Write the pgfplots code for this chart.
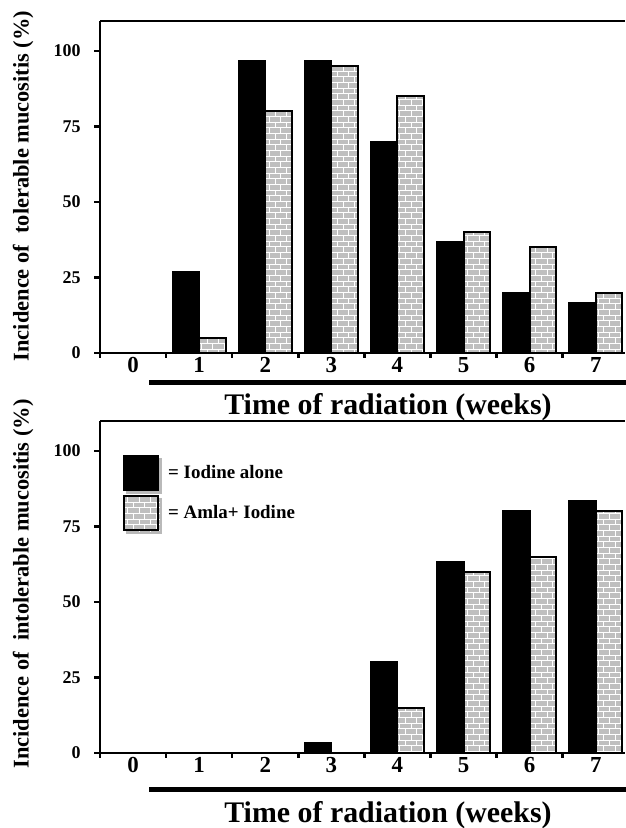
\documentclass[border=0pt]{standalone}
\usepackage{fontspec}
\setmainfont{Liberation Serif}
\usepackage{pgfplots}
\pgfplotsset{compat=1.18}
\usetikzlibrary{patterns}

% weekly incidence (%), iodine alone vs amla + iodine
\pgfplotstableread{
week iod amla
0 0    0
1 26.7 5
2 96.7 80
3 96.7 95
4 70   85
5 36.7 40
6 20   35
7 16.7 20
}\tolerable
\pgfplotstableread{
week iod amla
0 0    0
1 0    0
2 0    0
3 3.3  0
4 30   15
5 63.3 60
6 80   65
7 83.3 80
}\intolerable

\pgfplotsset{
  muco/.style={
    x=66.1bp, y=3.02bp,
    xmin=-0.5, xmax=7.44, ymin=0, ymax=110,
    axis x line*=bottom, axis y line*=left,
    axis line style={line width=2.5bp, -},
    ytick={0,25,50,75,100},
    xtick={0,...,7},
    minor xtick={-0.5,0.5,...,6.5},
    tick align=outside,
    major tick length=6bp, minor tick length=5bp,
    tick style={line width=2.5bp, black},
    major x tick style={draw=none},
    /pgf/number format/assume math mode=true,
    yticklabel style={font=\bfseries\fontsize{18}{19}\selectfont, xshift=-10bp},
    xticklabel style={font=\bfseries\fontsize{23}{24}\selectfont, yshift=5bp},
  },
  blackbar/.style={ybar, bar width=26.4bp, bar shift=-13.2bp,
    fill=black, draw=black, line width=2bp},
  brickbar/.style={ybar, bar width=26.4bp, bar shift=13.2bp,
    fill=gray!50, draw=black, line width=2bp,
    postaction={pattern=bricks, pattern color=white}},
  sqlegend/.style={legend image code/.code={
    \fill[gray!55] (3bp,-20bp) rectangle (37bp,14bp);
    \draw[##1, line width=2bp] (0bp,-17bp) rectangle (34bp,17bp);}},
}

\begin{document}
\begin{tikzpicture}
\useasboundingbox (0,0) rectangle (626bp,828bp);

\begin{axis}[muco, at={(100bp,475bp)}, anchor=south west]
\addplot[blackbar] table[x=week, y=iod] {\tolerable};
\addplot[brickbar] table[x=week, y=amla] {\tolerable};
\draw[line width=2.5bp] (rel axis cs:0,1) -- (rel axis cs:1,1);
\draw[gray!40, line width=0.6bp] (rel axis cs:1,0) -- (rel axis cs:1,1);
\end{axis}

\begin{axis}[muco, at={(100bp,75bp)}, anchor=south west,
  legend style={at={(rel axis cs:0,1)}, anchor=north west,
    xshift=23bp, yshift=-34bp, draw=none, fill=none, inner sep=0pt,
    row sep=1bp, font=\bfseries\fontsize{19}{20}\selectfont,
    nodes={inner sep=0pt, anchor=west},
    /tikz/every odd column/.append style={column sep=6bp}},
  legend cell align=left]
\addplot[blackbar, sqlegend] table[x=week, y=iod] {\intolerable};
\addplot[brickbar, sqlegend] table[x=week, y=amla] {\intolerable};
\legend{= Iodine alone, = Amla+ Iodine}
\draw[line width=2.5bp] (rel axis cs:0,1) -- (rel axis cs:1,1);
\draw[gray!40, line width=0.6bp] (rel axis cs:1,0) -- (rel axis cs:1,1);
\end{axis}

\fill (149bp,443bp) rectangle (626bp,448bp);
\fill (149bp,36bp) rectangle (626bp,41bp);

\node[anchor=base, font=\bfseries\fontsize{30}{32}\selectfont]
  at (388bp,413bp) {Time of radiation (weeks)};
\node[anchor=base, font=\bfseries\fontsize{30}{32}\selectfont]
  at (388bp,6bp) {Time of radiation (weeks)};
\node[rotate=90, font=\bfseries\fontsize{22.5}{24}\selectfont]
  at (23bp,642bp) {Incidence of\ \ tolerable mucositis (\%)};
\node[rotate=90, font=\bfseries\fontsize{22.5}{24}\selectfont]
  at (23bp,244bp) {Incidence of\ \ intolerable mucositis (\%)};
\end{tikzpicture}
\end{document}
